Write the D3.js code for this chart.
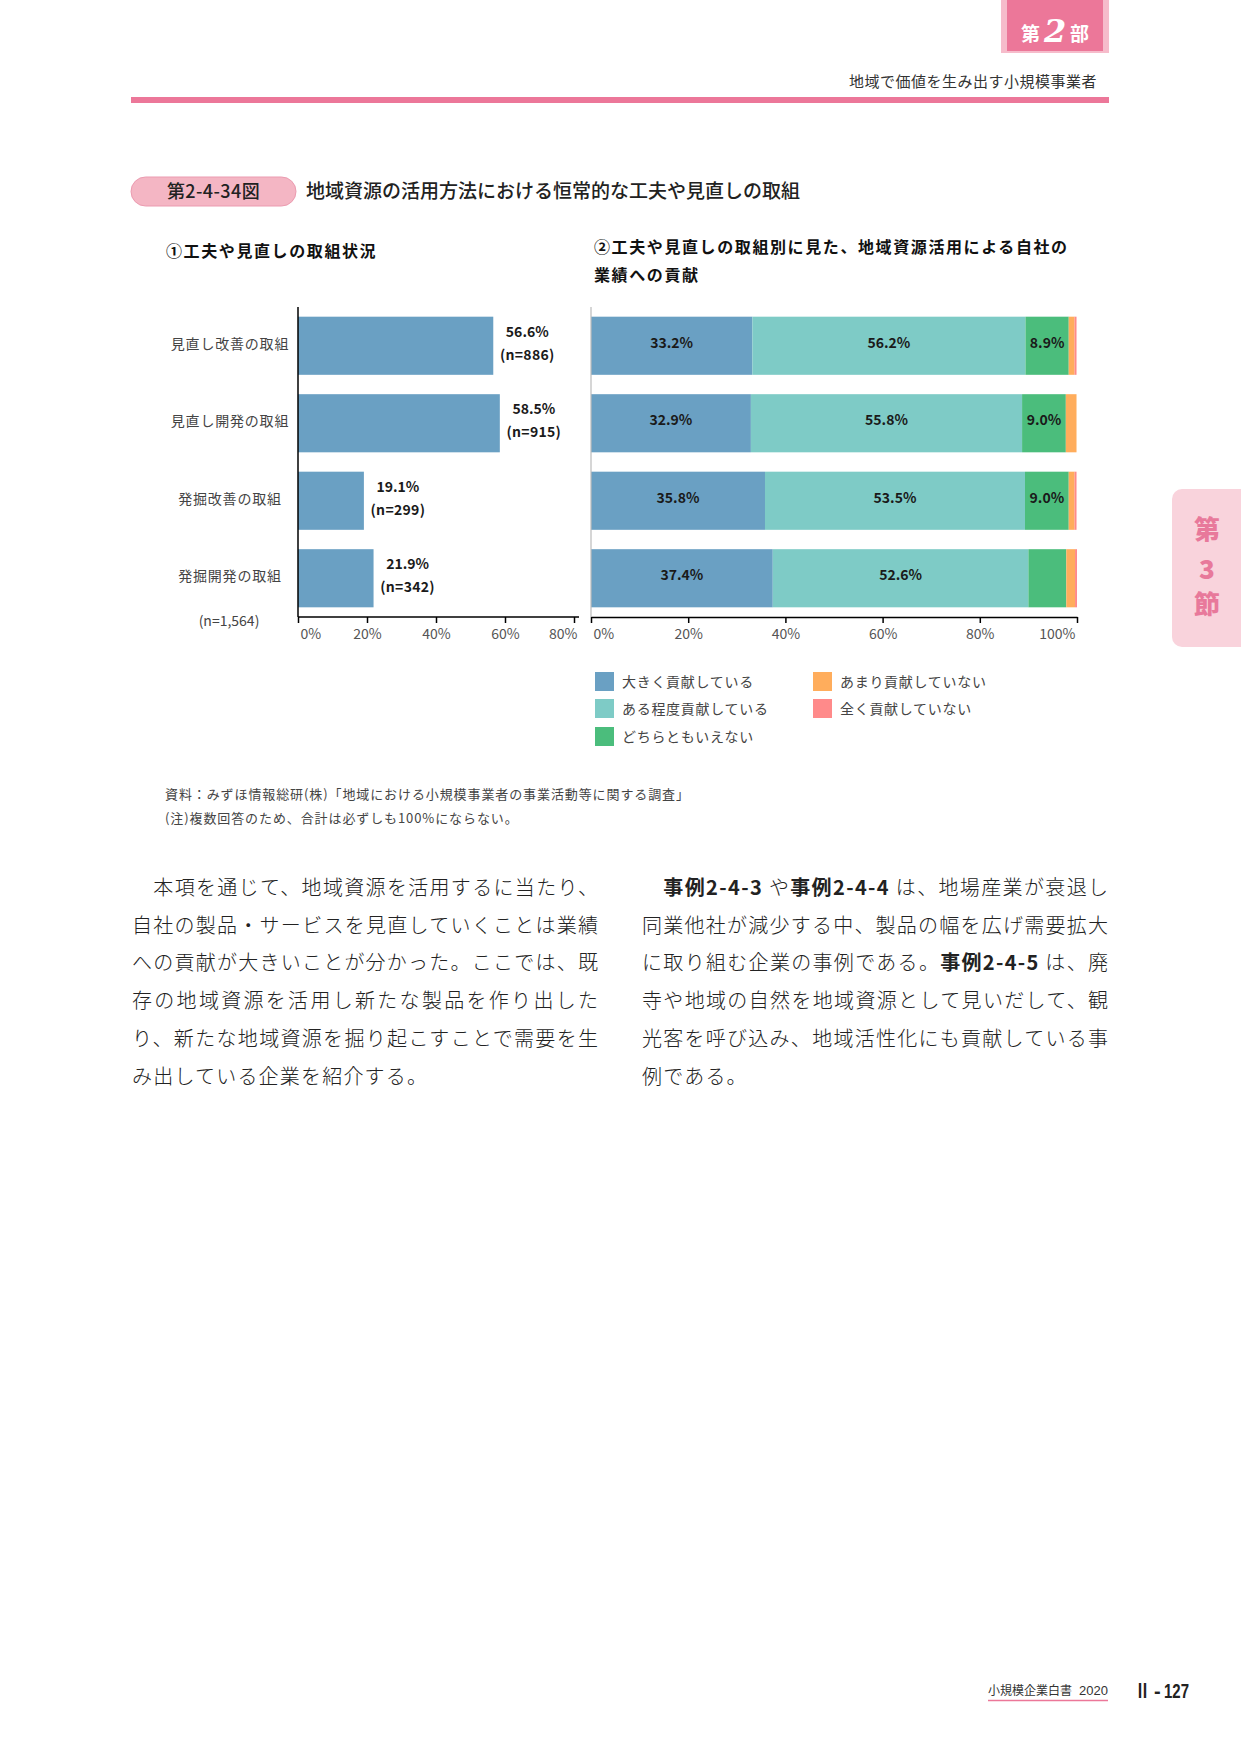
<!DOCTYPE html>
<html><head><meta charset="utf-8">
<script src="https://cdn.jsdelivr.net/npm/d3@7"></script>
<style>
html,body{margin:0;padding:0;background:#fff;}
svg{display:block;font-family:"Noto Sans CJK JP","Noto Sans",sans-serif;}
</style></head>
<body>
<svg id="page" width="1241" height="1754"></svg>
<script>
// ---------- data ----------
const categories = ["見直し改善の取組","見直し開発の取組","発掘改善の取組","発掘開発の取組"];
const statusValues = [56.6, 58.5, 19.1, 21.9];
const statusN = [886, 915, 299, 342];
const totalN = "(n=1,564)";
const seriesNames = ["大きく貢献している","ある程度貢献している","どちらともいえない","あまり貢献していない","全く貢献していない"];
const bigValues = [33.2, 32.9, 35.8, 37.4];
const someValues = [56.2, 55.8, 53.5, 52.6];
const neutralValues = [8.9, 9.0, 9.0, 7.8];
const littleValues = [1.2, 2.2, 1.2, 1.8];
const noneValues = [0.4, 0.0, 0.4, 0.4];
const leftTicks = [0, 20, 40, 60, 80];
const rightTicks = [0, 20, 40, 60, 80, 100];
const seriesColors = ["#6aa0c3","#7ecbc6","#4bbd7c","#ffad5c","#ff8a8a"];

const svg = d3.select("#page");

// ---------- page header ----------
svg.append("rect").attr("x",1001).attr("y",0).attr("width",108).attr("height",53).attr("fill","#f6bccb");
svg.append("rect").attr("x",1007).attr("y",0).attr("width",96).attr("height",51).attr("fill","#ec7799");
svg.append("text").attr("x",1021).attr("y",41).attr("fill","#fff").attr("font-size",19).attr("font-weight",700).text("第");
svg.append("text").attr("x",1044).attr("y",42).attr("fill","#fff").attr("font-size",32).attr("font-weight",700)
  .attr("font-style","italic").attr("font-family","'DejaVu Serif','Liberation Serif',serif").text("2");
svg.append("text").attr("x",1070).attr("y",41).attr("fill","#fff").attr("font-size",19).attr("font-weight",700).text("部");
svg.append("text").attr("x",1097).attr("y",87).attr("text-anchor","end").attr("fill","#333").attr("font-size",15)
  .attr("letter-spacing",0.5).text("地域で価値を生み出す小規模事業者");
svg.append("rect").attr("x",131).attr("y",97).attr("width",978).attr("height",6).attr("fill","#ec7799");

// ---------- side tab ----------
svg.append("rect").attr("x",1172).attr("y",489).attr("width",90).attr("height",158).attr("rx",10).attr("fill","#f9d3dc");
[["第",539],["3",579],["節",614]].forEach(([t,y])=>{
  svg.append("text").attr("x",1207).attr("y",y).attr("text-anchor","middle").attr("fill","#e8799b")
    .attr("font-size",26).attr("font-weight",900).text(t);
});

// ---------- figure title ----------
svg.append("rect").attr("x",131).attr("y",177).attr("width",165).attr("height",29).attr("rx",14.5)
  .attr("fill","#f4b6c4").attr("stroke","#eb9bb0").attr("stroke-width",1);
svg.append("text").attr("x",213.5).attr("y",198).attr("text-anchor","middle").attr("fill","#222")
  .attr("font-size",18).attr("font-weight",500).attr("letter-spacing",0.4).text("第2-4-34図");
svg.append("text").attr("x",306).attr("y",198).attr("fill","#222").attr("font-size",19).attr("font-weight",500)
  .text("地域資源の活用方法における恒常的な工夫や見直しの取組");

// ---------- subtitles ----------
svg.append("text").attr("x",166).attr("y",257).attr("fill","#111").attr("font-size",16).attr("font-weight",700)
  .attr("letter-spacing",1.6).text("①工夫や見直しの取組状況");
svg.append("text").attr("x",594).attr("y",253).attr("fill","#111").attr("font-size",16).attr("font-weight",700)
  .attr("letter-spacing",1.6).text("②工夫や見直しの取組別に見た、地域資源活用による自社の");
svg.append("text").attr("x",594).attr("y",281).attr("fill","#111").attr("font-size",16).attr("font-weight",700)
  .attr("letter-spacing",1.6).text("業績への貢献");

// ---------- scales ----------
const y = d3.scaleBand().domain(categories).range([307, 617]).paddingInner(0.25).paddingOuter(0.125);
const xL = d3.scaleLinear().domain([0, 80]).range([298, 574]);
const xR = d3.scaleLinear().domain([0, 100]).range([591, 1077]);
const axisY = 617;

// ---------- left chart ----------
const gL = svg.append("g");
gL.selectAll("rect.bar").data(categories).join("rect").attr("class","bar")
  .attr("x", xL(0)).attr("y", d=>y(d)).attr("width",(d,i)=>xL(statusValues[i])-xL(0))
  .attr("height", y.bandwidth()).attr("fill", seriesColors[0]);
gL.selectAll("text.cat").data(categories).join("text").attr("class","cat")
  .attr("x",230).attr("y",d=>y(d)+y.bandwidth()/2+3).attr("text-anchor","middle")
  .attr("fill","#444").attr("font-size",14).attr("letter-spacing",0.8).text(d=>d);
gL.append("text").attr("x",229).attr("y",626).attr("text-anchor","middle").attr("fill","#444")
  .attr("font-size",14).text(totalN);
categories.forEach((c,i)=>{
  const cx = xL(statusValues[i]) + 34, cy = y(c)+y.bandwidth()/2;
  gL.append("text").attr("x",cx).attr("y",cy-9).attr("text-anchor","middle").attr("fill","#1a1a1a")
    .attr("font-size",14).attr("font-weight",700).text(statusValues[i].toFixed(1)+"%");
  gL.append("text").attr("x",cx).attr("y",cy+14).attr("text-anchor","middle").attr("fill","#1a1a1a")
    .attr("font-size",14).attr("font-weight",700).attr("letter-spacing",0.3).text("(n="+statusN[i]+")");
});
// left axes
gL.append("line").attr("x1",xL(0)).attr("x2",xL(0)).attr("y1",307).attr("y2",axisY).attr("stroke","#000").attr("stroke-width",1.5);
const axL = gL.append("g").attr("transform",`translate(0,${axisY})`)
  .call(d3.axisBottom(xL).tickValues(leftTicks).tickSize(6).tickSizeOuter(0).tickFormat(d=>d+"%"));
axL.select(".domain").attr("d",`M${xL(0)},0H579`).attr("stroke","#000").attr("stroke-width",1.5);
axL.selectAll(".tick line").attr("stroke","#000").attr("stroke-width",1.5);
axL.selectAll(".tick text").attr("font-size",14).attr("fill","#555").attr("font-family","'Noto Sans CJK JP',sans-serif")
  .attr("y",12).attr("dy","0.71em")
  .attr("text-anchor",(d,i)=> i===0 ? "start" : (i===leftTicks.length-1 ? "end" : "middle"))
  .attr("dx",(d,i)=> i===0 ? 2 : (i===leftTicks.length-1 ? 3 : 0));

// ---------- right chart ----------
const rows = categories.map((c,i)=>({cat:c, big:bigValues[i], some:someValues[i], neutral:neutralValues[i], little:littleValues[i], none:noneValues[i]}));
const keys = ["big","some","neutral","little","none"];
const stacked = d3.stack().keys(keys)(rows);
const gR = svg.append("g");
gR.selectAll("g.series").data(stacked).join("g").attr("class","series").attr("fill",(d,i)=>seriesColors[i])
  .selectAll("rect").data(d=>d).join("rect")
  .attr("x",d=>xR(d[0])).attr("y",d=>y(d.data.cat)).attr("width",d=>Math.max(0,xR(d[1])-xR(d[0])))
  .attr("height",y.bandwidth());
stacked.slice(0,3).forEach(s=>{
  s.forEach(d=>{
    const v = d[1]-d[0];
    if (v < 8) return;
    gR.append("text").attr("x",(xR(d[0])+xR(d[1]))/2).attr("y",y(d.data.cat)+y.bandwidth()/2+2)
      .attr("text-anchor","middle").attr("fill","#1a1a1a").attr("font-size",14).attr("font-weight",700)
      .text(v.toFixed(1)+"%");
  });
});
gR.append("line").attr("x1",xR(0)).attr("x2",xR(0)).attr("y1",307).attr("y2",axisY).attr("stroke","#bbb").attr("stroke-width",1.2);
const axR = gR.append("g").attr("transform",`translate(0,${axisY})`)
  .call(d3.axisBottom(xR).tickValues(rightTicks).tickSize(6).tickSizeOuter(0).tickFormat(d=>d+"%"));
axR.select(".domain").attr("stroke","#000").attr("stroke-width",1.5);
axR.selectAll(".tick line").attr("stroke","#000").attr("stroke-width",1.5);
axR.selectAll(".tick text").attr("font-size",14).attr("fill","#555").attr("font-family","'Noto Sans CJK JP',sans-serif")
  .attr("y",12).attr("dy","0.71em")
  .attr("text-anchor",(d,i)=> i===0 ? "start" : (i===rightTicks.length-1 ? "end" : "middle"))
  .attr("dx",(d,i)=> i===0 ? 2 : (i===rightTicks.length-1 ? -2 : 0));

// ---------- legend ----------
const legendPos = [[595,672],[595,699],[595,727],[813,672],[813,699]];
const lg = svg.append("g");
seriesNames.forEach((n,i)=>{
  const [lx,ly] = legendPos[i];
  lg.append("rect").attr("x",lx).attr("y",ly).attr("width",19).attr("height",19).attr("fill",seriesColors[i]);
  lg.append("text").attr("x",lx+27).attr("y",ly+15).attr("fill","#444").attr("font-size",14)
    .attr("letter-spacing",0.7).text(n);
});

// ---------- notes ----------
svg.append("text").attr("x",165).attr("y",799).attr("fill","#444").attr("font-size",13).attr("letter-spacing",0.9)
  .text("資料：みずほ情報総研(株)「地域における小規模事業者の事業活動等に関する調査」");
svg.append("text").attr("x",165).attr("y",823).attr("fill","#444").attr("font-size",13).attr("letter-spacing",0.9)
  .text("(注)複数回答のため、合計は必ずしも100%にならない。");

// ---------- body text ----------
const bodyLeft = [
  [["　本項を通じて、地域資源を活用するに当たり、",0]],
  [["自社の製品・サービスを見直していくことは業績",0]],
  [["への貢献が大きいことが分かった。ここでは、既",0]],
  [["存の地域資源を活用し新たな製品を作り出した",0]],
  [["り、新たな地域資源を掘り起こすことで需要を生",0]],
  [["み出している企業を紹介する。",0]]
];
const bodyRight = [
  [["　",0],["事例2-4-3",1],[" や",0],["事例2-4-4",1],[" は、地場産業が衰退し",0]],
  [["同業他社が減少する中、製品の幅を広げ需要拡大",0]],
  [["に取り組む企業の事例である。",0],["事例2-4-5",1],[" は、廃",0]],
  [["寺や地域の自然を地域資源として見いだして、観",0]],
  [["光客を呼び込み、地域活性化にも貢献している事",0]],
  [["例である。",0]]
];
function drawBody(lines, x0){
  lines.forEach((parts,i)=>{
    const t = svg.append("text").attr("x",x0).attr("y",895+i*37.7).attr("fill","#222").attr("font-size",20);
    parts.forEach(([s,b])=>{
      t.append("tspan").attr("font-weight",b?700:300).text(s);
    });
    if (i < lines.length-1) t.attr("textLength",466).attr("lengthAdjust","spacing");
    else t.attr("letter-spacing",1.2);
  });
}
drawBody(bodyLeft, 132);
drawBody(bodyRight, 642);

// ---------- footer ----------
svg.append("text").attr("x",988).attr("y",1695).attr("fill","#333").attr("font-size",12).text("小規模企業白書");
svg.append("text").attr("x",1108).attr("y",1695).attr("text-anchor","end").attr("fill","#333").attr("font-size",13)
  .attr("font-family","'Liberation Sans',sans-serif").text("2020");
svg.append("line").attr("x1",988).attr("x2",1108).attr("y1",1700.5).attr("y2",1700.5).attr("stroke","#ec7799").attr("stroke-width",1.5);
svg.append("text").attr("x",1135).attr("y",1698).attr("fill","#222").attr("font-size",20).attr("font-weight",700)
  .attr("textLength",15).attr("lengthAdjust","spacingAndGlyphs").text("Ⅱ");
svg.append("text").attr("x",1154).attr("y",1698).attr("fill","#222").attr("font-size",20).attr("font-weight",700)
  .attr("font-family","'Liberation Sans',sans-serif").text("-");
svg.append("text").attr("x",1164).attr("y",1698).attr("fill","#222").attr("font-size",20).attr("font-weight",700)
  .attr("font-family","'Liberation Sans',sans-serif").attr("textLength",25).attr("lengthAdjust","spacingAndGlyphs").text("127");
</script>
</body></html>
